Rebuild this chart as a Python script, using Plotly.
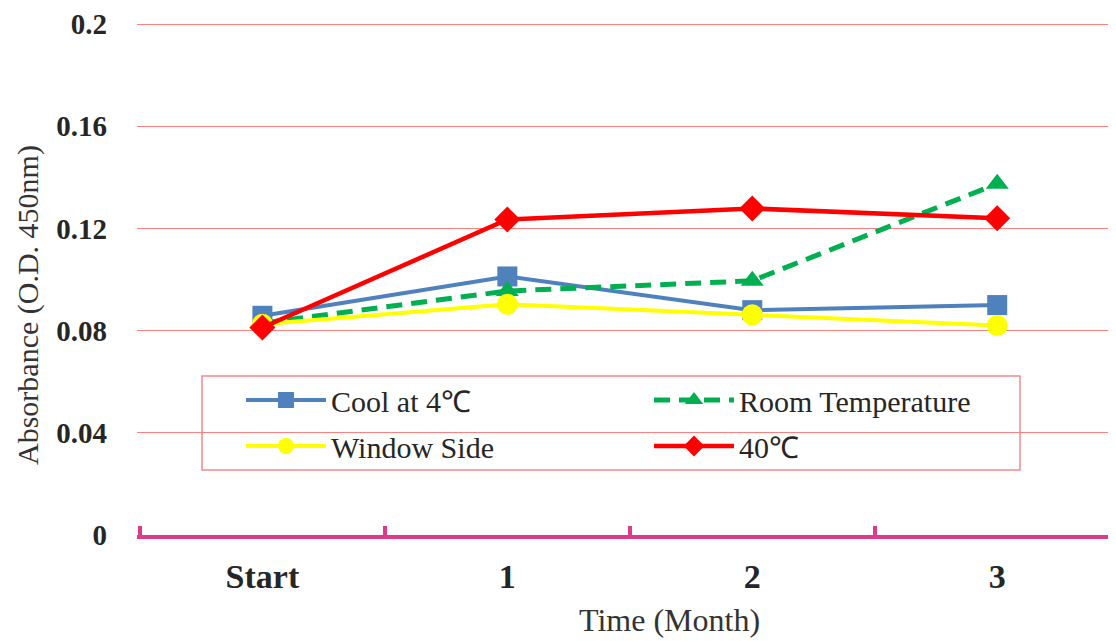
import plotly.graph_objects as go

months = ["Start", "1", "2", "3"]
cool_4c = [0.0858, 0.1012, 0.0880, 0.0900]
room_temp = [0.0830, 0.0955, 0.0995, 0.1375]
window_side = [0.0825, 0.0903, 0.0862, 0.0820]
hot_40c = [0.0812, 0.1235, 0.1278, 0.1240]
y_ticks = [0, 0.04, 0.08, 0.12, 0.16, 0.2]
y_tick_text = ["0", "0.04", "0.08", "0.12", "0.16", "0.2"]

SERIF = "Liberation Serif, Times New Roman, serif"
AXIS_PINK = "#de3a8c"
TEXT = "#262626"

# page body has an 8px margin, so the figure is drawn 8px smaller
W, H = 1108, 633
ML, MT, MB = 129, 15, 106
PW, PH = W - ML, H - MT - MB


def px(x):
    # screen x (page pixels) -> paper x
    return (x - 8 - ML) / PW


def py(y):
    # screen y (page pixels) -> paper y
    return (H - MB - (y - 8)) / PH


fig = go.Figure()

fig.add_trace(go.Scatter(
    x=months, y=cool_4c, name="Cool at 4℃", mode="lines+markers",
    line=dict(color="#4f81bd", width=4),
    marker=dict(symbol="square", size=20, color="#4f81bd"),
    legend="legend",
))
fig.add_trace(go.Scatter(
    x=months, y=room_temp, name="Room Temperature", mode="lines+markers",
    line=dict(color="#00b050", width=5, dash="16px,9px"),
    marker=dict(symbol="triangle-up", size=20, color="#00b050"),
    legend="legend",
))
fig.add_trace(go.Scatter(
    x=months, y=window_side, name="Window Side", mode="lines+markers",
    line=dict(color="#ffff00", width=4),
    marker=dict(symbol="circle", size=21, color="#ffff00"),
    legend="legend2",
))
fig.add_trace(go.Scatter(
    x=months, y=hot_40c, name="40℃", mode="lines+markers",
    line=dict(color="#ff0000", width=4.5),
    marker=dict(symbol="diamond", size=20, color="#ff0000"),
    legend="legend2",
))

legend_style = dict(
    orientation="h", xanchor="left", yanchor="middle",
    bgcolor="rgba(0,0,0,0)", borderwidth=0,
    font=dict(family=SERIF, size=30, color=TEXT),
    entrywidth=313, entrywidthmode="pixels", itemwidth=80,
)

fig.update_layout(
    width=W, height=H,
    margin=dict(l=ML, r=0, t=MT, b=MB),
    paper_bgcolor="white", plot_bgcolor="white",
    font=dict(family=SERIF, color=TEXT),
    showlegend=True,
    legend=dict(x=px(241), y=py(400), **legend_style),
    legend2=dict(x=px(241), y=py(446), **legend_style),
    xaxis=dict(
        type="category", range=[-0.512, 3.485],
        showgrid=False, zeroline=False,
        showline=True, linecolor=AXIS_PINK, linewidth=4,
        ticks="inside", tickson="boundaries", ticklen=9, tickwidth=4, tickcolor=AXIS_PINK,
        tickfont=dict(family=SERIF, size=34, color=TEXT, weight="bold"),
        ticklabelstandoff=8,
    ),
    yaxis=dict(
        range=[0, 0.2004], tickvals=y_ticks, ticktext=y_tick_text,
        showgrid=True, gridcolor="#ff8080", gridwidth=1,
        zeroline=False, showline=False, ticks="",
        tickfont=dict(family=SERIF, size=29, color=TEXT, weight="bold"),
        ticklabelstandoff=29,
    ),
    shapes=[
        dict(type="rect", xref="paper", yref="paper",
             x0=px(202), x1=px(1020), y0=py(470), y1=py(376),
             fillcolor="white", line=dict(color="#f28b8b", width=1.5),
             layer="between"),
    ],
    annotations=[
        dict(text="Time (Month)", xref="paper", yref="paper",
             x=px(669), y=py(620),
             xanchor="center", yanchor="middle", showarrow=False,
             font=dict(family=SERIF, size=32, color="#333333")),
        dict(text="Absorbance (O.D. 450nm)", xref="paper", yref="paper",
             x=px(28), y=py(305), textangle=-90,
             xanchor="center", yanchor="middle", showarrow=False,
             font=dict(family=SERIF, size=30, color="#333333")),
    ],
)

fig.write_html("out.html")
